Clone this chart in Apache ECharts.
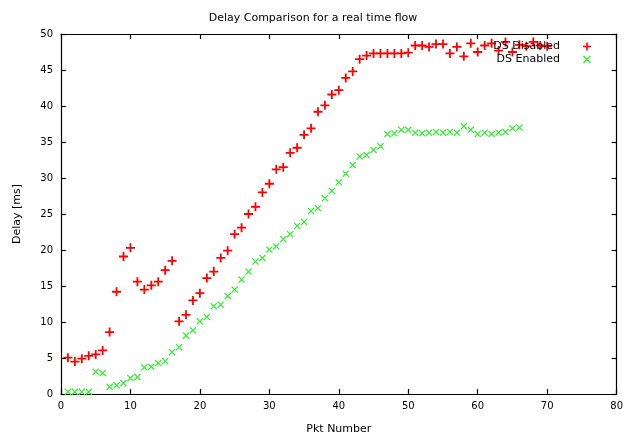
<!DOCTYPE html>
<html>
<head>
<meta charset="utf-8">
<script src="https://cdn.jsdelivr.net/npm/echarts@6/dist/echarts.min.js"></script>
<style>html,body{margin:0;padding:0;background:#fff}#c{width:626px;height:440px}</style>
</head>
<body>
<div id="c"></div>
<script>
var titleText = 'Delay Comparison for a real time flow';
var xName = 'Pkt Number';
var yName = 'Delay [ms]';
var seriesNames = ['DS Disabled', 'DS Enabled'];

var pktDisabled = [1,2,3,4,5,6,7,8,9,10,11,12,13,14,15,16,17,18,19,20,21,22,23,24,25,26,27,28,29,30,31,32,33,34,35,36,37,38,39,40,41,42,43,44,45,46,47,48,49,50,51,52,53,54,55,56,57,58,59,60,61,62,63,64,65,66,67,68,69,70];
var delayDisabled = [5.05,4.5,4.9,5.3,5.5,6.05,8.6,14.2,19.1,20.3,15.6,14.5,15.1,15.6,17.2,18.5,10.1,11.0,13.0,14.0,16.1,17.0,18.9,19.9,22.2,23.1,25.0,26.0,28.0,29.2,31.2,31.5,33.5,34.2,36.0,36.9,39.2,40.1,41.6,42.2,43.9,44.8,46.5,47.0,47.3,47.3,47.3,47.3,47.3,47.4,48.4,48.4,48.2,48.6,48.6,47.3,48.2,46.9,48.7,47.5,48.4,48.7,47.7,48.9,47.5,48.5,48.3,48.9,48.4,48.3];

var pktEnabled = [1,2,3,4,5,6,7,8,9,10,11,12,13,14,15,16,17,18,19,20,21,22,23,24,25,26,27,28,29,30,31,32,33,34,35,36,37,38,39,40,41,42,43,44,45,46,47,48,49,50,51,52,53,54,55,56,57,58,59,60,61,62,63,64,65,66];
var delayEnabled = [0.3,0.3,0.3,0.3,3.1,2.9,1.0,1.2,1.5,2.2,2.35,3.7,3.8,4.3,4.55,5.8,6.5,8.1,8.85,10.1,10.7,12.2,12.4,13.6,14.5,15.9,17.0,18.4,18.9,20.05,20.5,21.5,22.2,23.35,23.9,25.4,25.8,27.2,28.2,29.4,30.6,31.8,33.0,33.2,33.9,34.4,36.1,36.2,36.7,36.7,36.3,36.2,36.3,36.4,36.3,36.4,36.3,37.2,36.7,36.1,36.3,36.1,36.3,36.4,36.9,37.0];

function pairs(xs, ys) { return xs.map(function (x, i) { return [x, ys[i]]; }); }

var plusPath = 'path://M3.2,0H4.8V3.2H8V4.8H4.8V8H3.2V4.8H0V3.2H3.2Z';
var xPath = 'path://M0,1L1,0L4,3L7,0L8,1L5,4L8,7L7,8L4,5L1,8L0,7L3,4Z';
var FONT = '"DejaVu Sans", "Liberation Sans", Arial, sans-serif';

var axisCommon = {
  axisLine: { show: true, onZero: false, lineStyle: { color: '#000', width: 1.2 } },
  axisTick: { show: true, inside: true, length: 5, lineStyle: { color: '#000', width: 1.2 } },
  splitLine: { show: false }
};

var chart = echarts.init(document.getElementById('c'), null, { renderer: 'canvas' });
chart.setOption({
  backgroundColor: '#fff',
  animation: false,
  title: {
    text: titleText, left: 'center', top: 8,
    textStyle: { fontFamily: FONT, fontSize: 11, fontWeight: 'normal', color: '#000' }
  },
  legend: {
    orient: 'vertical', right: 30, top: 36, align: 'right', itemGap: 2,
    itemWidth: 8, itemHeight: 8,
    textStyle: { fontFamily: FONT, fontSize: 11, color: '#000', padding: [0, 18, 0, 0] },
    data: [
      { name: seriesNames[0], icon: plusPath },
      { name: seriesNames[1], icon: xPath }
    ]
  },
  grid: { left: 61, right: 7, top: 34, bottom: 37, containLabel: false },
  xAxis: [
    Object.assign({
      type: 'value', min: 0, max: 80, interval: 10, position: 'bottom',
      name: xName, nameLocation: 'middle', nameGap: 30,
      nameTextStyle: { fontFamily: FONT, fontSize: 11, color: '#000' },
      axisLabel: { fontFamily: FONT, fontSize: 10, color: '#000', margin: 7 }
    }, axisCommon),
    Object.assign({
      type: 'value', min: 0, max: 80, interval: 10, position: 'top',
      axisLabel: { show: false }
    }, axisCommon)
  ],
  yAxis: [
    Object.assign({
      type: 'value', min: 0, max: 50, interval: 5, position: 'left',
      name: yName, nameLocation: 'middle', nameGap: 38, nameRotate: 90,
      nameTextStyle: { fontFamily: FONT, fontSize: 11, color: '#000' },
      axisLabel: { fontFamily: FONT, fontSize: 10, color: '#000', margin: 8 }
    }, axisCommon),
    Object.assign({
      type: 'value', min: 0, max: 50, interval: 5, position: 'right',
      axisLabel: { show: false }
    }, axisCommon)
  ],
  series: [
    {
      name: seriesNames[0], type: 'scatter', xAxisIndex: 0, yAxisIndex: 0,
      symbol: plusPath, symbolSize: 9,
      itemStyle: { color: '#ff0000', opacity: 1 },
      data: pairs(pktDisabled, delayDisabled)
    },
    {
      name: seriesNames[1], type: 'scatter', xAxisIndex: 0, yAxisIndex: 0,
      symbol: xPath, symbolSize: 7,
      itemStyle: { color: '#33ee33', opacity: 1 },
      data: pairs(pktEnabled, delayEnabled)
    }
  ]
});
</script>
</body>
</html>
